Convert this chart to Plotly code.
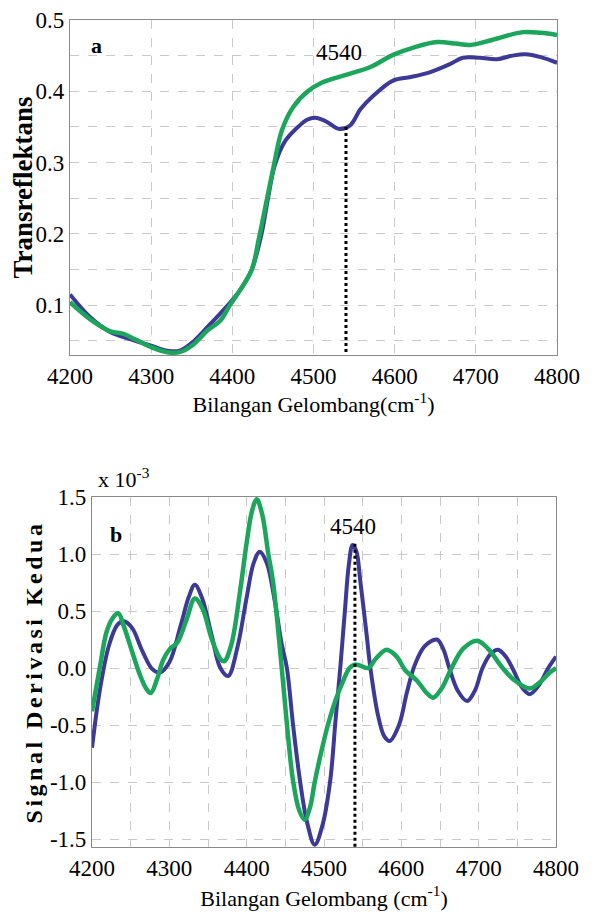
import plotly.graph_objects as go

# ---------------- Panel a : transreflectance ----------------
a_blue_x = [4200, 4225, 4250, 4275, 4300, 4320, 4335, 4350, 4370, 4385, 4400, 4412, 4424, 4436, 4444, 4452,
            4465, 4481, 4492, 4502, 4515, 4532, 4545, 4558, 4573, 4598, 4620, 4644, 4668, 4684, 4705, 4726,
            4745, 4761, 4780, 4800]
a_blue_y = [0.115, 0.083, 0.062, 0.052, 0.043, 0.036, 0.036, 0.047, 0.070, 0.088, 0.107, 0.125, 0.150, 0.200,
            0.250, 0.295, 0.330, 0.350, 0.360, 0.363, 0.358, 0.347, 0.352, 0.375, 0.393, 0.415, 0.420, 0.427,
            0.438, 0.447, 0.447, 0.445, 0.450, 0.452, 0.448, 0.440]

a_green_x = [4200, 4225, 4250, 4265, 4280, 4300, 4320, 4335, 4350, 4370, 4385, 4397, 4410, 4424, 4433, 4442,
             4451, 4461, 4475, 4493, 4510, 4540, 4570, 4598, 4625, 4652, 4675, 4693, 4720, 4758, 4780, 4800]
a_green_y = [0.104, 0.080, 0.063, 0.060, 0.052, 0.041, 0.034, 0.034, 0.043, 0.065, 0.078, 0.100, 0.122, 0.150,
             0.195, 0.245, 0.295, 0.345, 0.378, 0.400, 0.412, 0.423, 0.434, 0.451, 0.462, 0.469, 0.467, 0.465,
             0.472, 0.483, 0.482, 0.479]

a_mark_x = 4540
a_mark_y = 0.350
a_ytick_vals = [0.1, 0.2, 0.3, 0.4, 0.5]
a_ytick_text = ["0.1", "0.2", "0.3", "0.4", "0.5"]

# ---------------- Panel b : second derivative (x 10^-3) ----------------
b_blue_x = [4200, 4210, 4222, 4233, 4241, 4252, 4265, 4278, 4288, 4300, 4315, 4325, 4333, 4342, 4355, 4366,
            4376, 4388, 4400, 4409, 4417, 4426, 4436, 4445, 4452, 4460, 4469, 4478, 4488, 4498, 4508, 4515,
            4521, 4527, 4532, 4537, 4542, 4547, 4555, 4560, 4570, 4578, 4585, 4597, 4607, 4617, 4630, 4646,
            4654, 4662, 4673, 4685, 4695, 4705, 4715, 4725, 4735, 4745, 4756, 4766, 4778, 4790, 4800]
b_blue_y = [-0.70, -0.20, 0.20, 0.38, 0.41, 0.35, 0.15, -0.01, -0.04, 0.05, 0.38, 0.62, 0.73, 0.62, 0.28, 0.00,
            -0.07, 0.18, 0.62, 0.92, 1.02, 0.92, 0.60, 0.22, 0.00, -0.50, -0.99, -1.35, -1.55, -1.38, -0.99, -0.45,
            0.00, 0.50, 0.90, 1.08, 1.02, 0.76, 0.30, 0.00, -0.42, -0.60, -0.64, -0.50, -0.22, 0.02, 0.19, 0.25,
            0.17, 0.00, -0.20, -0.29, -0.20, 0.00, 0.12, 0.16, 0.10, -0.02, -0.17, -0.23, -0.15, 0.00, 0.10]

b_green_x = [4200, 4210, 4219, 4227, 4234, 4242, 4252, 4262, 4270, 4276, 4284, 4292, 4301, 4310, 4322, 4333,
             4343, 4355, 4366, 4371, 4380, 4392, 4400, 4407, 4413, 4420, 4428, 4434, 4443, 4452, 4460, 4468,
             4475, 4482, 4488, 4497, 4505, 4515, 4525, 4533, 4540, 4547, 4557, 4568, 4581, 4594, 4605, 4620,
             4633, 4641, 4652, 4665, 4680, 4698, 4712, 4731, 4745, 4766, 4780, 4792, 4800]
b_green_y = [-0.38, 0.00, 0.32, 0.44, 0.48, 0.35, 0.14, -0.06, -0.18, -0.22, -0.10, 0.07, 0.17, 0.22, 0.42, 0.61,
             0.52, 0.25, 0.08, 0.06, 0.20, 0.70, 1.10, 1.38, 1.48, 1.35, 1.00, 0.76, 0.17, -0.49, -0.99, -1.25,
             -1.33, -1.22, -1.00, -0.72, -0.50, -0.28, -0.11, 0.00, 0.03, 0.02, 0.00, 0.09, 0.16, 0.10, -0.02, -0.11,
             -0.22, -0.26, -0.18, 0.00, 0.17, 0.24, 0.17, 0.00, -0.10, -0.18, -0.12, -0.04, 0.00]

b_mark_x = 4540
b_mark_y = 1.09
b_ytick_vals = [-1.5, -1.0, -0.5, 0.0, 0.5, 1.0, 1.5]
b_ytick_text = ["-1.5", "-1.0", "-0.5", "0.0", "0.5", "1.0", "1.5"]

x_tick_vals = [4200, 4300, 4400, 4500, 4600, 4700, 4800]
x_tick_text = ["4200", "4300", "4400", "4500", "4600", "4700", "4800"]

BLUE = "#3d3a97"
GREEN = "#1ba65c"
FONT = "Liberation Serif"
OFF = 8                       # page body margin
W, H = 592 - OFF, 917 - OFF   # figure size


def px(x):
    return (x - OFF) / W


def py(y):
    return 1 - (y - OFF) / H


fig = go.Figure()
fig.add_trace(go.Scatter(x=a_blue_x, y=a_blue_y, mode="lines", line=dict(color=BLUE, width=4, shape="spline", smoothing=1.0),
                         xaxis="x", yaxis="y", showlegend=False))
fig.add_trace(go.Scatter(x=a_green_x, y=a_green_y, mode="lines", line=dict(color=GREEN, width=4.5, shape="spline", smoothing=1.0),
                         xaxis="x", yaxis="y", showlegend=False))
fig.add_trace(go.Scatter(x=[a_mark_x, a_mark_x], y=[a_mark_y, 0.03], mode="lines", line=dict(color="black", width=3, dash="dot"),
                         xaxis="x", yaxis="y", showlegend=False))

fig.add_trace(go.Scatter(x=b_blue_x, y=b_blue_y, mode="lines", line=dict(color=BLUE, width=4, shape="spline", smoothing=1.0),
                         xaxis="x2", yaxis="y2", showlegend=False))
fig.add_trace(go.Scatter(x=b_green_x, y=b_green_y, mode="lines", line=dict(color=GREEN, width=4.5, shape="spline", smoothing=1.0),
                         xaxis="x2", yaxis="y2", showlegend=False))
fig.add_trace(go.Scatter(x=[b_mark_x, b_mark_x], y=[b_mark_y, -1.6], mode="lines", line=dict(color="black", width=3, dash="dot"),
                         xaxis="x2", yaxis="y2", showlegend=False))

tickfont = dict(family=FONT, size=23, color="black")
grid = dict(showgrid=True, gridcolor="#c9c9c9", griddash="dash", gridwidth=1)
axline = dict(showline=True, linecolor="#8a8a8a", linewidth=1.2, mirror=True, ticks="", zeroline=False,
              automargin=False, ticklabeloverflow="allow")

fig.update_layout(
    template="none",
    width=W, height=H,
    margin=dict(l=0, r=0, t=0, b=0, autoexpand=False),
    paper_bgcolor="white", plot_bgcolor="white",
    font=dict(family=FONT, color="black"),
    xaxis=dict(domain=[px(70), px(557)], anchor="y", range=[4200, 4800], tickvals=x_tick_vals, ticktext=x_tick_text,
               tickfont=tickfont, **grid, **axline,
               title=dict(text="Bilangan Gelombang(cm<sup>-1</sup>)", font=dict(family=FONT, size=22, color="black"), standoff=0)),
    yaxis=dict(domain=[py(355), py(20)], anchor="x", range=[0.03, 0.5], tickvals=a_ytick_vals, ticktext=a_ytick_text,
               tickfont=tickfont, **grid, **axline,
               minor=dict(dtick=0.05, showgrid=True, gridcolor="#c9c9c9", griddash="dash", gridwidth=1, ticks=""),
               title=dict(text="<b>Transreflektans</b>", font=dict(family=FONT, size=27, color="black"), standoff=3)),
    xaxis2=dict(domain=[px(92), px(556)], anchor="y2", range=[4200, 4800], tickvals=x_tick_vals, ticktext=x_tick_text,
                tickfont=tickfont, **grid, **axline,
                minor=dict(dtick=50, tick0=4200, showgrid=True, gridcolor="#c9c9c9", griddash="dash", gridwidth=1, ticks=""),
                title=dict(text="Bilangan Gelombang (cm<sup>-1</sup>)", font=dict(family=FONT, size=22, color="black"), standoff=10)),
    yaxis2=dict(domain=[py(847), py(497)], anchor="x2", range=[-1.57, 1.5], tickvals=b_ytick_vals, ticktext=b_ytick_text,
                tickfont=tickfont, **grid, **axline,
                title=dict(text="<b><span style='letter-spacing:3.5px'>Signal Derivasi Kedua</span></b>",
                           font=dict(family=FONT, size=24, color="black"), standoff=0)),
)

fig.add_annotation(x=4233, y=0.464, xref="x", yref="y", text="<b>a</b>", showarrow=False,
                   font=dict(family=FONT, size=22, color="black"))
fig.add_annotation(x=4531, y=0.455, xref="x", yref="y", text="4540", showarrow=False,
                   font=dict(family=FONT, size=23, color="black"))
fig.add_annotation(x=4231, y=1.17, xref="x2", yref="y2", text="<b>b</b>", showarrow=False,
                   font=dict(family=FONT, size=22, color="black"))
fig.add_annotation(x=4537, y=1.24, xref="x2", yref="y2", text="4540", showarrow=False,
                   font=dict(family=FONT, size=23, color="black"))
fig.add_annotation(x=px(96), y=py(478), xref="paper", yref="paper", xanchor="left", yanchor="middle",
                   text="x 10<sup>-3</sup>", showarrow=False, font=dict(family=FONT, size=22, color="black"))

fig.write_html("out.html")
